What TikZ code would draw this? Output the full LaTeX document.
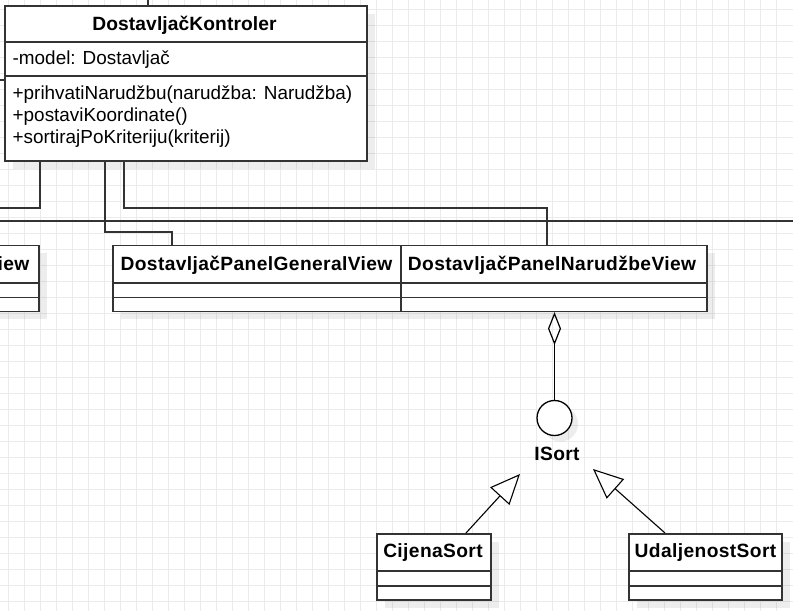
\documentclass[tikz,border=0pt]{standalone}
\usepackage{fontspec}
\setmainfont{Liberation Sans}
\usetikzlibrary{arrows.meta,shadows,calc}
\definecolor{gridc}{HTML}{EBEBEB}
\definecolor{linec}{HTML}{333333}
\tikzset{
  cls/.style={draw=linec, line width=1.6pt, fill=white, inner sep=0pt, anchor=north west,
    drop shadow={shadow xshift=8pt, shadow yshift=-8pt, fill=black, opacity=0.07}},
  divider/.style={draw=linec, line width=1.6pt},
  conn/.style={draw=linec, line width=1.6pt},
  ttl/.style={font=\bfseries\fontsize{19.2}{21.7}\selectfont\addfontfeature{LetterSpace=2}, inner sep=0pt, anchor=base},
  ttlk/.style={font=\bfseries\fontsize{19.2}{21.7}\selectfont\addfontfeature{LetterSpace=0.5}, inner sep=0pt, anchor=base},
  txt/.style={font=\fontsize{18.9}{21.7}\selectfont, inner sep=0pt, anchor=base west},
  aggr/.style={draw=black, line width=1.2pt, {Diamond[open, length=33pt, width=13pt]}-},
  inh/.style={draw=black, line width=1.1pt, -{Triangle[fill=white, length=30pt, width=26pt]}},
  iface/.style={circle, draw=black, line width=1.3pt, fill=white, minimum size=35pt, inner sep=0pt,
    drop shadow={shadow xshift=6pt, shadow yshift=-6pt, fill=black, opacity=0.07}}
}
\begin{document}
\begin{tikzpicture}[x=1pt, y=-1pt]
\useasboundingbox (0,0) rectangle (793,611);
\clip (0,0) rectangle (793,611);
\fill[white] (0,0) rectangle (793,611);
% grid
\foreach \gx in {8.7,24.7,...,792} \draw[gridc, line width=0.9pt] (\gx,0) -- (\gx,611);
\foreach \gy in {9,25,...,611} \draw[gridc, line width=0.9pt] (0,\gy) -- (793,\gy);

% class boxes
\node[cls, minimum width=362pt, minimum height=155pt] (K) at (4,5) {};
\draw[divider] (K.west |- 0,42) -- (K.east |- 0,42);
\draw[divider] (K.west |- 0,76) -- (K.east |- 0,76);
\node[ttlk] (Kt) at (184.5,30) {DostavljačKontroler};
\node[txt] (Ka) at (12.5,64) {-model: Dostavljač};
\node[txt] (Km1) at (12.5,99) {+prihvatiNarudžbu(narudžba: Narudžba)};
\node[txt] (Km2) at (12.5,121) {+postaviKoordinate()};
\node[txt] (Km3) at (12.5,143) {+sortirajPoKriteriju(kriterij)};

\node[cls, minimum width=80pt, minimum height=66pt] (L) at (-42,244.5) {};
\draw[divider] (L.west |- 0,283) -- (L.east |- 0,283);
\draw[divider] (L.west |- 0,297.5) -- (L.east |- 0,297.5);
\node[ttl, anchor=base east] (Lt) at (29.5,270) {iew};

\node[cls, minimum width=288pt, minimum height=66pt] (G) at (112,244.5) {};
\draw[divider] (G.west |- 0,283) -- (G.east |- 0,283);
\draw[divider] (G.west |- 0,297.5) -- (G.east |- 0,297.5);
\node[ttl] (Gt) at (256.5,270) {DostavljačPanelGeneralView};

\node[cls, minimum width=306pt, minimum height=66pt] (N) at (400,244.5) {};
\draw[divider] (N.west |- 0,283) -- (N.east |- 0,283);
\draw[divider] (N.west |- 0,297.5) -- (N.east |- 0,297.5);
\node[ttl] (Nt) at (552,270) {DostavljačPanelNarudžbeView};

\node[iface] (I) at (554.5,418) {};
\node[ttl] (It) at (557,460) {ISort};

\node[cls, minimum width=114pt, minimum height=66pt] (C) at (376,533) {};
\draw[divider] (C.west |- 0,571) -- (C.east |- 0,571);
\draw[divider] (C.west |- 0,586) -- (C.east |- 0,586);
\node[ttl] (Ct) at (433,557.5) {CijenaSort};

\node[cls, minimum width=153pt, minimum height=66pt] (U) at (628,533) {};
\draw[divider] (U.west |- 0,571) -- (U.east |- 0,571);
\draw[divider] (U.west |- 0,586) -- (U.east |- 0,586);
\node[ttl] (Ut) at (705.5,557.5) {UdaljenostSort};

% free ends
\coordinate (topend) at (148,0);
\coordinate (lftend) at (0,80);
\coordinate (c1end) at (0,208);
\coordinate (h1) at (0,221);
\coordinate (h2) at (793,221);
\coordinate (ctip) at (520,474);
\coordinate (utip) at (593,469);

% connectors
\draw[conn] (K.north -| topend) -- (topend);
\draw[conn] (K.west |- lftend) -- (lftend);
\draw[conn] (K.south -| 40,0) |- (c1end);
\draw[conn] (K.south -| 105,0) -- (105,232) -| ($(G.north west)+(60,0)$);
\draw[conn] (K.south -| 124,0) -- (124,208) -| ($(N.north west)+(147,0)$);
\draw[conn] (h1) -- (h2);
\draw[aggr] (N.south -| I.north) -- (I.north);
\draw[inh] (C.north -| 466,0) -- (ctip);
\draw[inh] (U.north -| 665,0) -- (utip);
\end{tikzpicture}
\end{document}
